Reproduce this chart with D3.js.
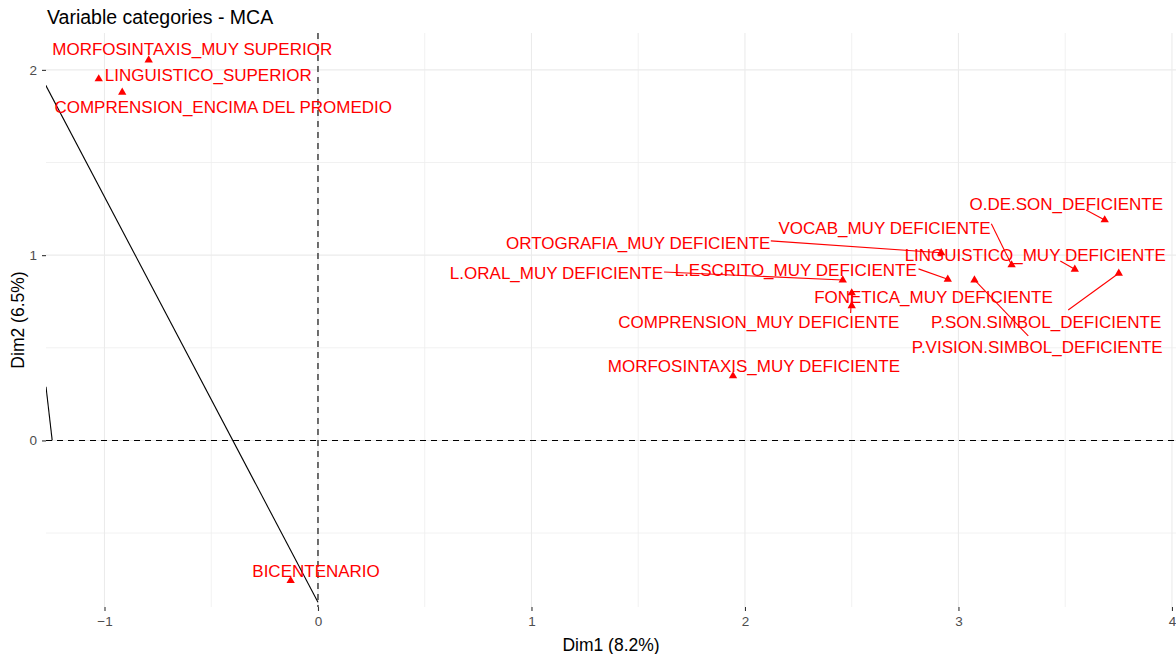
<!DOCTYPE html>
<html>
<head>
<meta charset="utf-8">
<script src="https://cdn.jsdelivr.net/npm/d3@7/dist/d3.min.js"></script>
<style>
  html, body { margin: 0; padding: 0; background: #fff; }
  svg { display: block; font-family: "Liberation Sans", Arial, Helvetica, sans-serif; }
</style>
</head>
<body>
<svg id="chart" width="1176" height="654"></svg>
<script>
// ---------- data ----------
const categories = [
  "MORFOSINTAXIS_MUY SUPERIOR", "LINGUISTICO_SUPERIOR", "COMPRENSION_ENCIMA DEL PROMEDIO",
  "BICENTENARIO", "MORFOSINTAXIS_MUY DEFICIENTE", "COMPRENSION_MUY DEFICIENTE",
  "FONETICA_MUY DEFICIENTE", "L.ORAL_MUY DEFICIENTE", "L.ESCRITO_MUY DEFICIENTE",
  "P.VISION.SIMBOL_DEFICIENTE", "ORTOGRAFIA_MUY DEFICIENTE", "VOCAB_MUY DEFICIENTE",
  "LINGUISTICO_MUY DEFICIENTE", "O.DE.SON_DEFICIENTE", "P.SON.SIMBOL_DEFICIENTE"
];
const dim1 = [-0.793, -1.027, -0.917, -0.128, 1.944, 2.500, 2.500, 2.458, 2.950, 3.075, 2.919, 3.249, 3.545, 3.685, 3.751];
const dim2 = [ 2.053,  1.951,  1.879, -0.757, 0.348, 0.796, 0.726, 0.866, 0.870, 0.866, 1.013, 0.947, 0.924, 1.190, 0.902];

// repelled label positions (data units)
const labelX = [-0.589, -0.514, -0.444, -0.009, 2.042, 2.065, 2.883, 1.117, 2.238, 3.369, 1.500, 2.654, 3.360, 3.505, 3.411];
const labelY = [ 2.113,  1.972,  1.800, -0.704, 0.402, 0.640, 0.774, 0.904, 0.920, 0.504, 1.066, 1.147, 1.001, 1.276, 0.640];

// connector segment starts (null = no segment)
const segStartX = [null, null, null, null, null, 2.495, null, 1.621, 2.813, 3.327, 2.121, 3.154, 3.477, 3.598, 3.514];
const segStartY = [null, null, null, null, null, 0.688, null, 0.909, 0.926, 0.564, 1.077, 1.169, 0.968, 1.244, 0.704];

// black lines (data units)
const blackLines = [
  [[-1.40, 2.19], [0.000, -0.873]],
  [[-1.274, 0.290], [-1.245, 0.000]]
];

const xTicks = [-1, 0, 1, 2, 3, 4];
const yTicks = [0, 1, 2];
const xMinor = [-0.5, 0.5, 1.5, 2.5, 3.5];
const yMinor = [-0.5, 0.5, 1.5];

const titleText = "Variable categories - MCA";
const xTitle = "Dim1 (8.2%)";
const yTitle = "Dim2 (6.5%)";

// ---------- layout ----------
const W = 1176, H = 654;
const panel = { left: 46, right: 1176, top: 33, bottom: 607 };
const x = d3.scaleLinear().domain([-1.274, 4.019]).range([panel.left, panel.right]);
const y = d3.scaleLinear().domain([-0.899, 2.199]).range([panel.bottom, panel.top]);

const svg = d3.select("#chart");
svg.append("rect").attr("width", W).attr("height", H).attr("fill", "#fff");

svg.append("defs").append("clipPath").attr("id", "clip")
  .append("rect")
  .attr("x", panel.left).attr("y", panel.top)
  .attr("width", panel.right - panel.left).attr("height", panel.bottom - panel.top);

// grid
const grid = svg.append("g");
grid.selectAll(".xm").data(xMinor).join("line")
  .attr("x1", d => x(d)).attr("x2", d => x(d))
  .attr("y1", panel.top).attr("y2", panel.bottom)
  .attr("stroke", "#ededed").attr("stroke-width", 0.8);
grid.selectAll(".ym").data(yMinor).join("line")
  .attr("y1", d => y(d)).attr("y2", d => y(d))
  .attr("x1", panel.left).attr("x2", panel.right)
  .attr("stroke", "#ededed").attr("stroke-width", 0.8);
grid.selectAll(".xM").data(xTicks).join("line")
  .attr("x1", d => x(d)).attr("x2", d => x(d))
  .attr("y1", panel.top).attr("y2", panel.bottom)
  .attr("stroke", "#ebebeb").attr("stroke-width", 1.1);
grid.selectAll(".yM").data(yTicks).join("line")
  .attr("y1", d => y(d)).attr("y2", d => y(d))
  .attr("x1", panel.left).attr("x2", panel.right)
  .attr("stroke", "#ebebeb").attr("stroke-width", 1.1);

// axes
const xAxis = d3.axisBottom(x).tickValues(xTicks).tickSize(4).tickPadding(5).tickFormat(d3.format("d"));
const yAxis = d3.axisLeft(y).tickValues(yTicks).tickSize(4).tickPadding(5).tickFormat(d3.format("d"));
const gx = svg.append("g").attr("transform", `translate(0,${panel.bottom})`).call(xAxis);
const gy = svg.append("g").attr("transform", `translate(${panel.left},0)`).call(yAxis);
[gx, gy].forEach(g => {
  g.select(".domain").remove();
  g.selectAll(".tick line").attr("stroke", "#333333").attr("stroke-width", 1.1);
  g.selectAll(".tick text").attr("fill", "#4d4d4d").attr("font-size", 13.5)
    .attr("font-family", "Liberation Sans, Arial, sans-serif");
});

// reference dashed lines
const plotG = svg.append("g").attr("clip-path", "url(#clip)");
plotG.append("line")
  .attr("x1", panel.left).attr("x2", panel.right).attr("y1", y(0)).attr("y2", y(0))
  .attr("stroke", "#000").attr("stroke-width", 1.1).attr("stroke-dasharray", "6,5");
plotG.append("line")
  .attr("x1", x(0)).attr("x2", x(0)).attr("y1", panel.top).attr("y2", panel.bottom)
  .attr("stroke", "#000").attr("stroke-width", 1.1).attr("stroke-dasharray", "6,5");

// black lines
const lineGen = d3.line().x(d => x(d[0])).y(d => y(d[1]));
plotG.selectAll(".bl").data(blackLines).join("path")
  .attr("d", lineGen).attr("fill", "none").attr("stroke", "#000").attr("stroke-width", 1.1);

// data rows
const rows = categories.map((c, i) => ({
  name: c, x: dim1[i], y: dim2[i], lx: labelX[i], ly: labelY[i],
  sx: segStartX[i], sy: segStartY[i]
}));

// segments
svg.append("g").selectAll("line").data(rows.filter(d => d.sx !== null)).join("line")
  .attr("x1", d => x(d.sx)).attr("y1", d => y(d.sy))
  .attr("x2", d => x(d.x)).attr("y2", d => y(d.y))
  .attr("stroke", "#ff0000").attr("stroke-width", 1.1);

// points
svg.append("g").selectAll("path").data(rows).join("path")
  .attr("d", d3.symbol().type(d3.symbolTriangle).size(30))
  .attr("transform", d => `translate(${x(d.x)},${y(d.y)})`)
  .attr("fill", "#ff0000");

// labels
svg.append("g").selectAll("text").data(rows).join("text")
  .attr("x", d => x(d.lx)).attr("y", d => y(d.ly))
  .attr("dy", "0.36em").attr("text-anchor", "middle")
  .attr("font-size", 17).attr("fill", "#ff0000")
  .text(d => d.name);

// titles
svg.append("text").attr("x", 47).attr("y", 24)
  .attr("font-size", 19.5).attr("fill", "#000").text(titleText);
svg.append("text").attr("x", (panel.left + panel.right) / 2).attr("y", 651)
  .attr("text-anchor", "middle").attr("font-size", 17.5).attr("fill", "#000").text(xTitle);
svg.append("text")
  .attr("transform", `translate(24,${(panel.top + panel.bottom) / 2}) rotate(-90)`)
  .attr("text-anchor", "middle").attr("font-size", 17.5).attr("fill", "#000").text(yTitle);
</script>
</body>
</html>
